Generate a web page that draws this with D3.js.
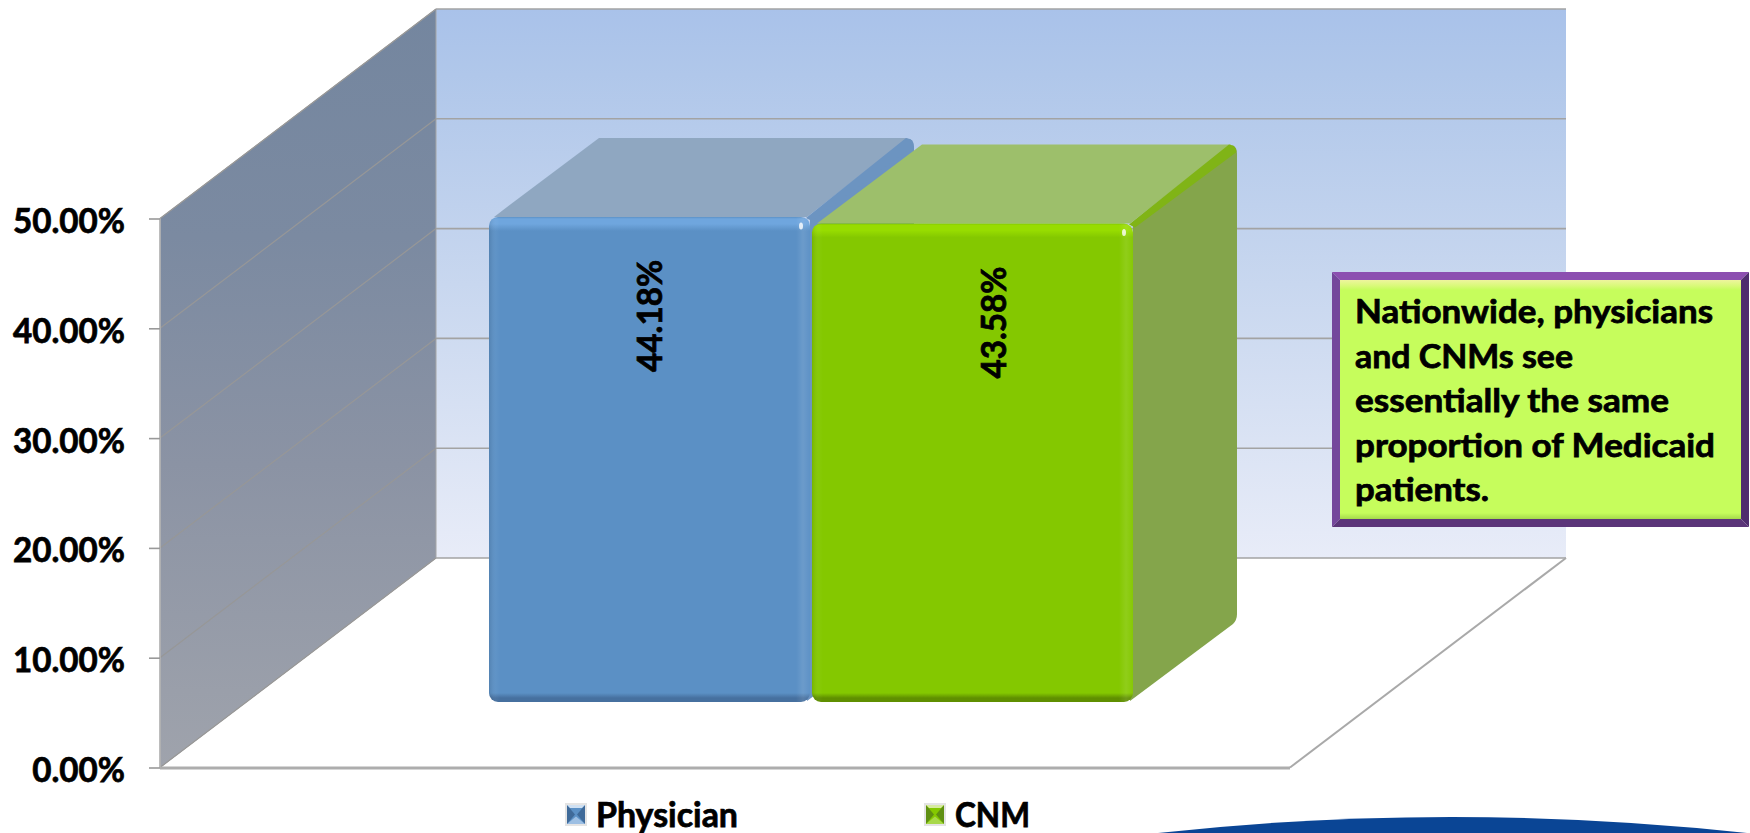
<!DOCTYPE html>
<html><head><meta charset="utf-8">
<style>html,body{margin:0;padding:0;background:#fff;overflow:hidden}svg{display:block}text{font-family:Lato,"Open Sans",sans-serif;font-weight:700;fill:#000;stroke:#000;stroke-width:.75px}</style>
<script src="https://cdn.jsdelivr.net/npm/d3@7/dist/d3.min.js"></script>
</head><body>
<svg id="c" width="1750" height="833"></svg>
<script>
const seriesNames = ["Physician", "CNM"];
const seriesValues = [44.18, 43.58];
const tickValues = [0, 10, 20, 30, 40, 50];
const noteLines = ["Nationwide, physicians", "and CNMs see", "essentially the same", "proportion of Medicaid", "patients."];

const noteWidths = [358, 218, 314, 360, 134];
const labelOffsets = [173, 194];
const frontFill = ["#5b90c5", "#84c800"], frontLight = ["#6fa6de", "#97dc00"], frontDark = ["#46709f", "#5f8f00"];
const topFill = ["#8fa7c1", "#9dbf6b"], sideFill = ["#6c94c1", "#84a54b"], edgeFill = ["#6c94c1", "#80b416"];

const svg = d3.select("#c");
const defs = svg.append("defs");
const y = d3.scaleLinear().domain([0, 50]).range([767.5, 218.5]);
const depthX = 276, depthY = 209.5;
const px0 = 160, px1 = 1290;
const barBase = 702, barDX = 104, barDY = 79;
const x = d3.scaleBand().domain(seriesNames).range([489, 1133]).paddingInner(0.006).paddingOuter(0);
const h = v => y(0) - y(v);

function grad(id, x1, y1, x2, y2, stops, units) {
  const g = defs.append("linearGradient").attr("id", id).attr("x1", x1).attr("y1", y1).attr("x2", x2).attr("y2", y2);
  if (units) g.attr("gradientUnits", units);
  stops.forEach(s => g.append("stop").attr("offset", s[0]).attr("stop-color", s[1]).attr("stop-opacity", s[2] === undefined ? 1 : s[2]));
}
grad("wall", 0, 0, 0, 1, [[0, "#a9c2ea"], [0.12, "#b0c7ea"], [0.5, "#c8d7ef"], [1, "#e8ecf8"]]);
grad("side", 0, 0, 0, 1, [[0, "#74869f"], [0.3, "#7b8aa1"], [0.6, "#8b93a4"], [1, "#9fa3ac"]]);

// walls
const wallTop = y(50) - depthY, wallBot = y(0) - depthY;
svg.append("rect").attr("x", px0 + depthX).attr("y", wallTop).attr("width", px1 - px0).attr("height", wallBot - wallTop).attr("fill", "url(#wall)");
svg.append("path").attr("fill", "url(#side)").attr("stroke", "#a6a6a6").attr("stroke-width", 1)
  .attr("d", d3.line()([[px0, y(0)], [px0, y(50)], [px0 + depthX, wallTop], [px0 + depthX, wallBot]]) + "Z");

// grid
const grid = svg.append("g");
grid.selectAll(".b").data(tickValues).join("line").attr("class", "b")
  .attr("x1", px0 + depthX).attr("x2", px1 + depthX)
  .attr("y1", d => y(d) - depthY).attr("y2", d => y(d) - depthY)
  .attr("stroke", "#a3a3a3").attr("stroke-width", 1.6);
grid.selectAll(".s").data(tickValues).join("line").attr("class", "s")
  .attr("x1", px0).attr("x2", px0 + depthX)
  .attr("y1", d => y(d)).attr("y2", d => y(d) - depthY)
  .attr("stroke", "#979797").attr("stroke-width", 1.2);
// floor
svg.append("path").attr("fill", "none").attr("stroke", "#a9a9a9").attr("stroke-width", 2)
  .attr("d", d3.line()([[px1, y(0)], [px1 + depthX, wallBot]]));
svg.append("line").attr("x1", px0).attr("x2", px1).attr("y1", y(0) + 0.5).attr("y2", y(0) + 0.5).attr("stroke", "#adadad").attr("stroke-width", 3);

// axis
const axis = d3.axisLeft(y).tickValues(tickValues).tickSize(11).tickPadding(24).tickFormat(d => d3.format(".2f")(d) + "%");
const ag = svg.append("g").attr("transform", `translate(${px0},0)`).call(axis);
ag.select(".domain").attr("stroke", "#b5b5b5").attr("stroke-width", 1.5).attr("d", `M0,${y(0)}V${y(50)}`);
ag.selectAll(".tick line").attr("stroke", "#999").attr("stroke-width", 1.6);
ag.selectAll(".tick text").attr("font-size", 35).attr("dy", "0.40em").attr("font-family", null);

function squeeze(sel, k) { sel.each(function () { const w = this.getComputedTextLength(); d3.select(this).attr("textLength", w * k).attr("lengthAdjust", "spacingAndGlyphs"); }); }
const tickWide = ag.selectAll(".tick text").nodes().reduce((m, n) => Math.max(m, n.getComputedTextLength()), 0);
squeeze(ag.selectAll(".tick text"), 112 / tickWide);

// bars
const bars = seriesNames.map((n, i) => ({ n, i, v: seriesValues[i] }));
function barBack(d) {
  const g = svg.append("g");
  const l = x(d.n), r = l + x.bandwidth(), t = barBase - h(d.v), b = barBase;
  // side
  g.append("path").attr("fill", sideFill[d.i]).attr("d",
    `M${r},${t}L${r + barDX - 4},${t - barDY + 1}Q${r + barDX},${t - barDY + 3} ${r + barDX},${t - barDY + 9}L${r + barDX},${b - barDY - 9}Q${r + barDX},${b - barDY - 3} ${r + barDX - 4},${b - barDY + 1}L${r - 3},${b - 1}Z`);
  // top
  g.append("path").attr("fill", topFill[d.i]).attr("d",
    `M${l + 5},${t}L${l + barDX + 6},${t - barDY}L${r + barDX - 6},${t - barDY}L${r - 3},${t}Z`);
  // edge between top and side
  g.append("path").attr("fill", edgeFill[d.i]).attr("d",
    `M${r - 4},${t + 1}L${r + barDX - 8},${t - barDY}L${r + barDX - 4},${t - barDY + 1}Q${r + barDX},${t - barDY + 4} ${r + barDX - 1},${t - barDY + 8}L${r + 2},${t + 4}Z`);
}
function barFront(d) {
  const g = svg.append("g");
  const l = x(d.n), w = x.bandwidth(), t = barBase - h(d.v), hh = h(d.v);
  grad("fv" + d.i, 0, 0, 0, 1, [[0, frontFill[d.i]], [2 / hh, frontLight[d.i]], [7 / hh, frontLight[d.i]], [14 / hh, frontFill[d.i]], [1 - 9 / hh, frontFill[d.i]], [1 - 4 / hh, frontDark[d.i]], [1, frontDark[d.i]]]);
  grad("fh" + d.i, 0, 0, 1, 0, [[0, "#000", 0.1], [7 / w, "#fff", 0.03], [11 / w, "#fff", 0], [1 - 14 / w, "#fff", 0], [1 - 7 / w, "#fff", 0.1], [1, "#fff", 0.02]]);
  g.append("rect").attr("x", l).attr("y", t).attr("width", w).attr("height", hh).attr("rx", 9).attr("fill", `url(#fv${d.i})`);
  g.append("rect").attr("x", l).attr("y", t).attr("width", w).attr("height", hh).attr("rx", 9).attr("fill", `url(#fh${d.i})`);
  g.append("ellipse").attr("cx", l + w - 9).attr("cy", t + 9).attr("rx", 2).attr("ry", 3.5).attr("fill", "#fff").attr("opacity", 0.8);
  const tx = g.append("text").attr("font-size", 35)
    .attr("transform", `translate(${l + labelOffsets[d.i]},${t + 43}) rotate(-90)`).attr("text-anchor", "end")
    .text(d3.format(".2f")(d.v) + "%");
  squeeze(tx, 112 / tx.node().getComputedTextLength());
}
barBack(bars[0]);
barFront(bars[0]);
barBack(bars[1]);
barFront(bars[1]);

// legend
const swTop = ["#cfe0f2", "#d6eaa0"], swSide = ["#3f6a99", "#5f8f12"], swBot = ["#9dbfe3", "#a8d84a"], swMid = ["#5b90c5", "#84c800"];
const leg = svg.append("g");
const legX = d3.scaleOrdinal().domain(seriesNames).range([565, 924]);
seriesNames.forEach((n, i) => {
  const sx = legX(n), sy = 803, w = 22, hh = 23, cx = sx + w / 2, cy = sy + hh / 2;
  const g = leg.append("g");
  g.append("rect").attr("x", sx).attr("y", sy).attr("width", w).attr("height", hh).attr("fill", "#e4e4e4");
  const a = sx + 2, b = sx + w - 2, c = sy + 2, e = sy + hh - 2;
  g.append("rect").attr("x", a).attr("y", c).attr("width", b - a).attr("height", e - c).attr("fill", swMid[i]);
  g.append("path").attr("fill", swSide[i]).attr("d", `M${a},${c}L${cx - 1},${cy}L${a},${e}Z`);
  g.append("path").attr("fill", swSide[i]).attr("d", `M${b},${c}L${cx + 1},${cy}L${b},${e}Z`);
  g.append("path").attr("fill", swTop[i]).attr("d", `M${a},${c}L${b},${c}L${b - 3},${c + 3}L${a + 3},${c + 3}Z`);
  g.append("path").attr("fill", swBot[i]).attr("d", `M${a},${e}L${b},${e}L${cx},${cy + 2}Z`);
  const t = g.append("text").attr("x", sx + 31).attr("y", 827).attr("font-size", 35).text(n);
  squeeze(t, (i ? 75 : 142) / t.node().getComputedTextLength());
});

// note box
const nb = svg.append("g");
const X0 = 1332, X1 = 1749, Y0 = 272, Y1 = 527, B = 8;
nb.append("path").attr("fill", "#8c4fb0").attr("d", `M${X0},${Y0}H${X1}L${X1 - B},${Y0 + B}H${X0 + B}Z`);
nb.append("path").attr("fill", "#74479b").attr("d", `M${X0},${Y0}V${Y1}L${X0 + B},${Y1 - B}V${Y0 + B}Z`);
nb.append("path").attr("fill", "#4f2d6e").attr("d", `M${X1},${Y0}V${Y1}L${X1 - B},${Y1 - B}V${Y0 + B}Z`);
nb.append("path").attr("fill", "#5b3579").attr("d", `M${X0},${Y1}H${X1}L${X1 - B},${Y1 - B}H${X0 + B}Z`);
const ih = Y1 - Y0 - 2 * B;
grad("note", 0, 0, 0, 1, [[0, "#eef59d"], [6 / ih, "#d8fa78"], [10 / ih, "#c6fd5c"], [1 - 6 / ih, "#c6fd5c"], [1, "#a5d94c"]]);
nb.append("rect").attr("x", X0 + B).attr("y", Y0 + B).attr("width", X1 - X0 - 2 * B).attr("height", ih).attr("fill", "url(#note)");
const noteY = d3.scalePoint().domain(noteLines).range([323, 501]);
nb.selectAll("text").data(noteLines).join("text").attr("x", 1355).attr("y", d => noteY(d)).attr("font-size", 33)
  .text(d => d).attr("textLength", (d, i) => noteWidths[i]).attr("lengthAdjust", "spacingAndGlyphs");

// slide decoration
svg.append("path").attr("fill", "#0a4595").attr("d", "M1158,833Q1450,801 1747,833Z");
</script>
</body></html>
